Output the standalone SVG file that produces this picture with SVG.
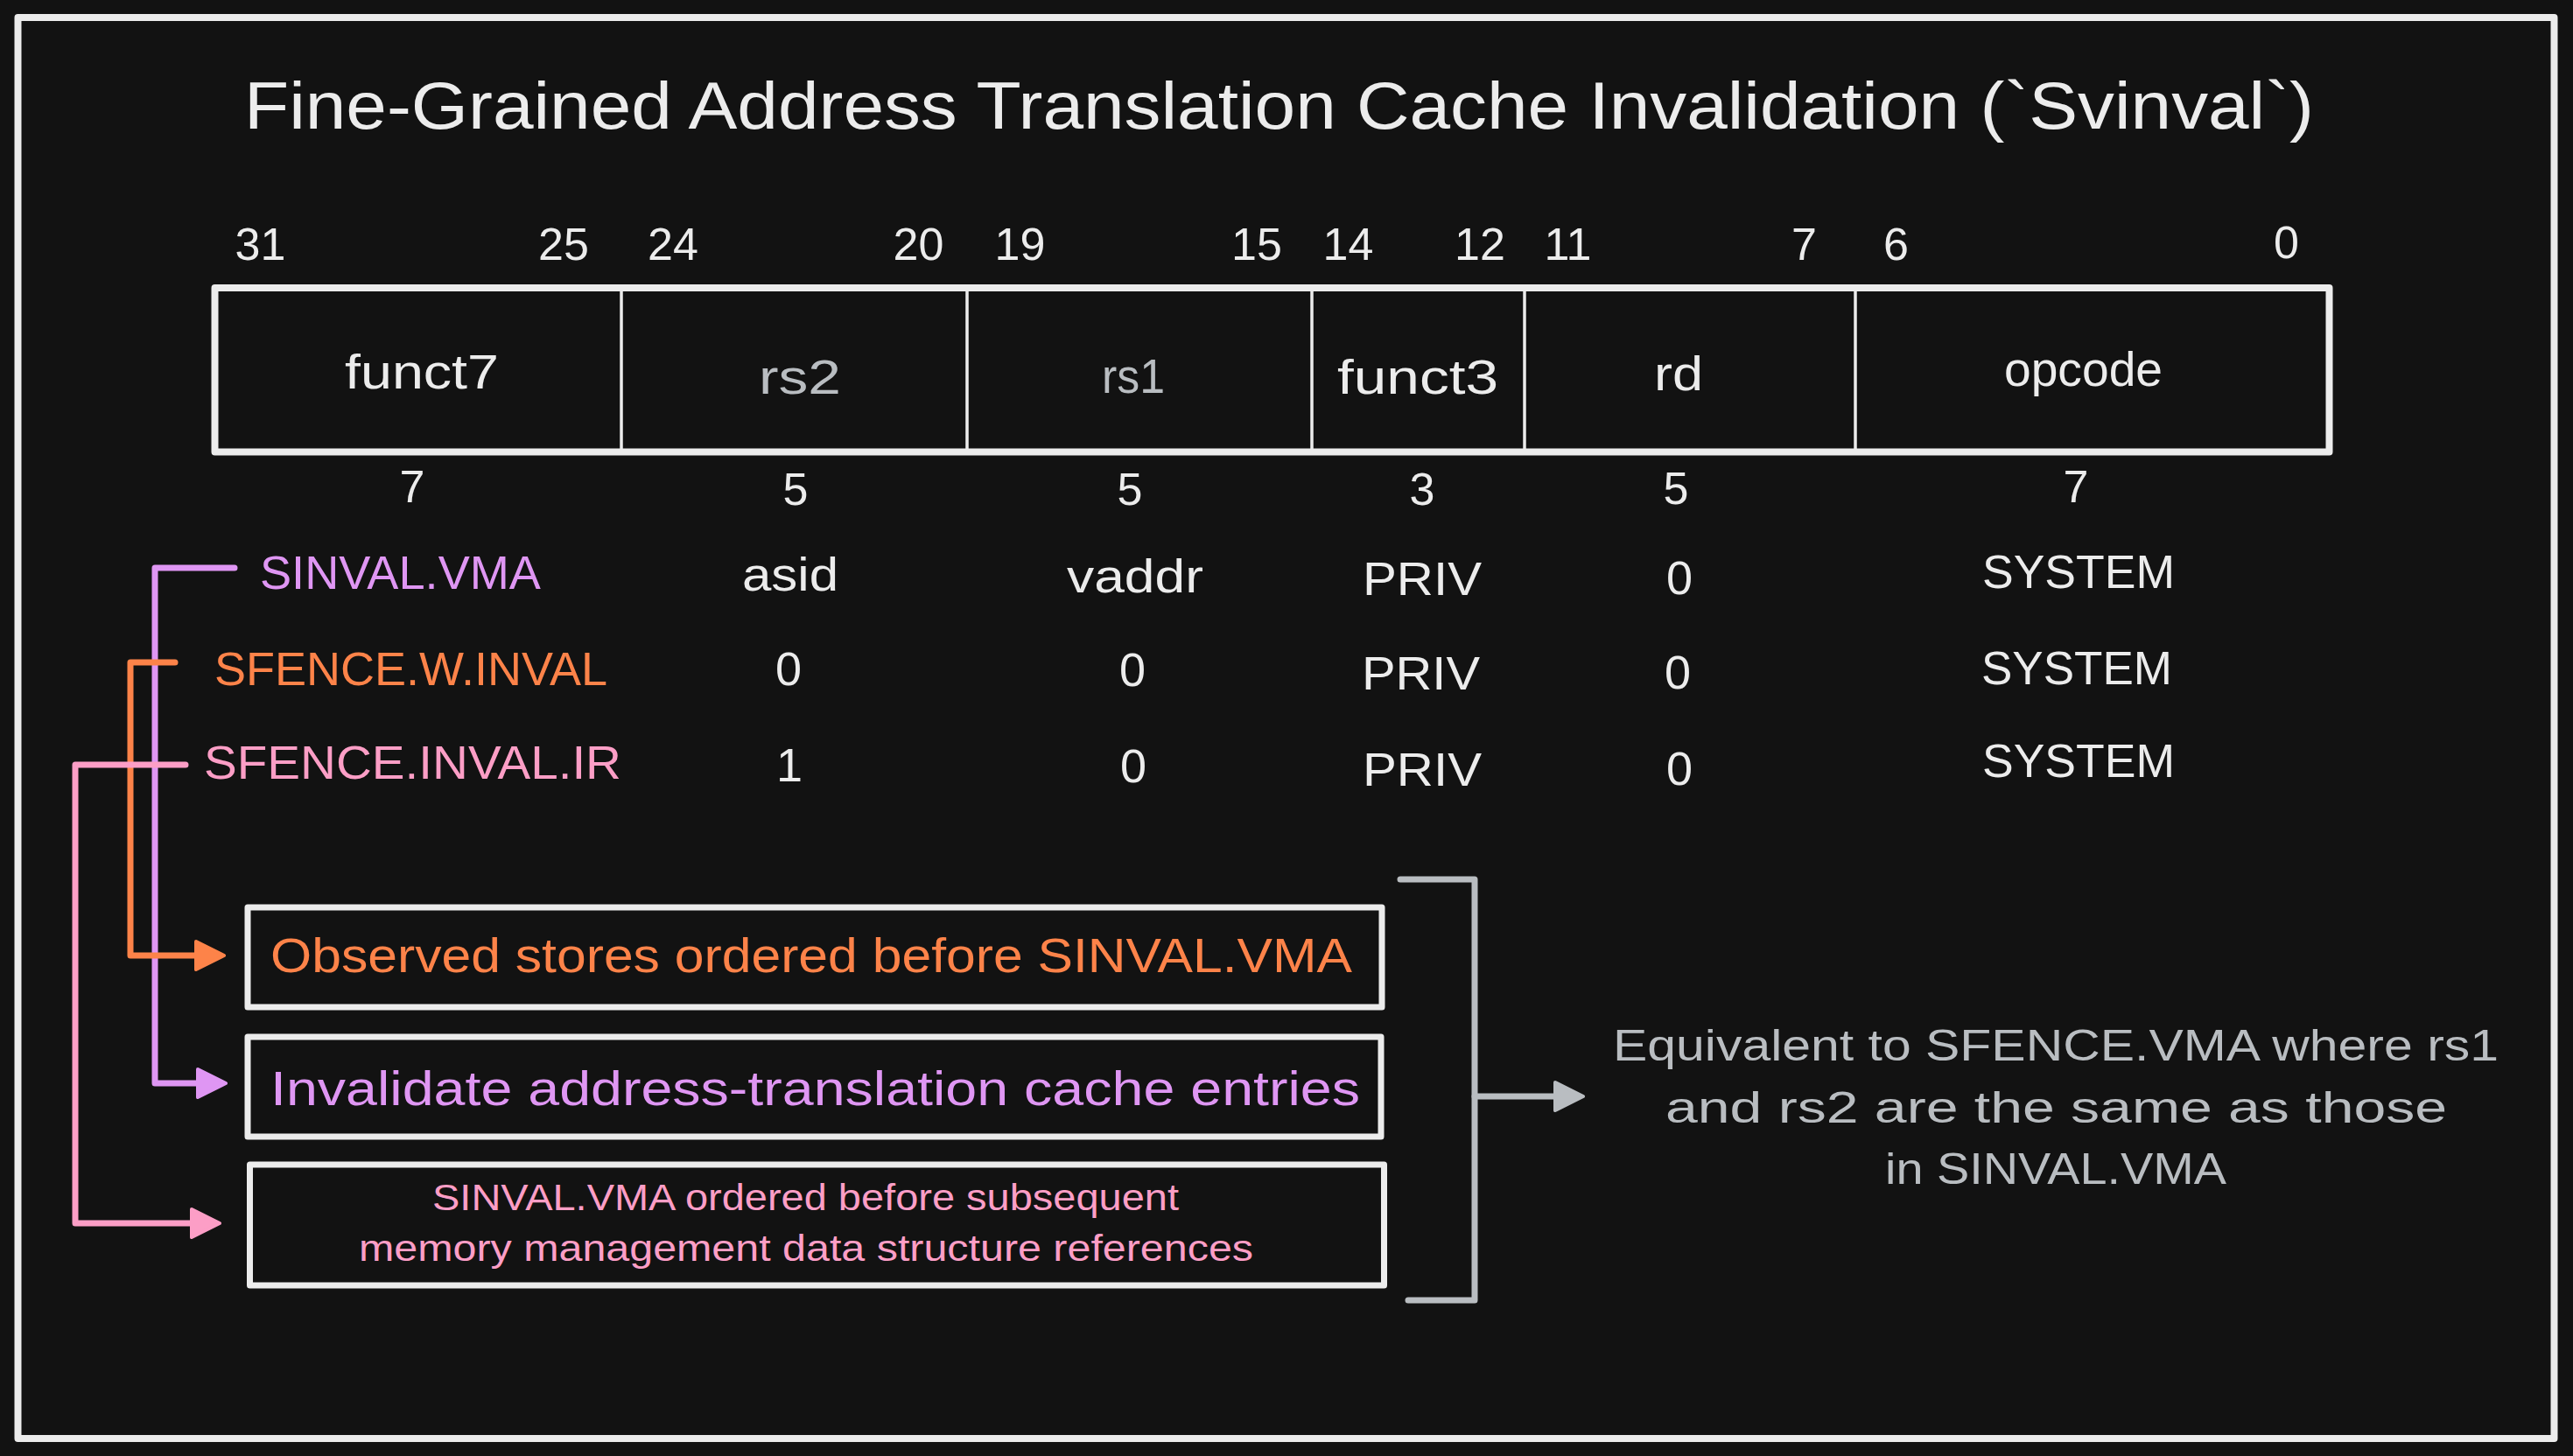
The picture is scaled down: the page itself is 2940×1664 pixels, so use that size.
<svg xmlns="http://www.w3.org/2000/svg" width="2940" height="1664" viewBox="0 0 2940 1664">
  <style>
    text { font-family: "Liberation Sans", "DejaVu Sans", sans-serif; fill: #ececec; }
    .title { font-size: 76px; }
    .bit { font-size: 52px; text-anchor: middle; }
    .num { font-size: 54px; text-anchor: middle; }
    .field { font-size: 56px; }
    .row { font-size: 54px; }
    .box-lg { font-size: 56px; }
    .box-sm { font-size: 42px; }
    .note { font-size: 50px; fill: #b9bdc1; }
    .gray { fill: #b9bdc1; }
    .violet { fill: #df96f3; }
    .orange { fill: #fd8349; }
    .pink { fill: #fc9ec6; }
    .frame { fill: none; stroke: #ececec; stroke-width: 8; stroke-linejoin: round; }
    .cell { fill: none; stroke: #ececec; stroke-width: 7; stroke-linejoin: round; }
    .divider { stroke: #ececec; stroke-width: 3.5; }
    .wire { fill: none; stroke-width: 7; stroke-linecap: round; stroke-linejoin: round; }
  </style>
  <defs>
    <marker id="head-violet" viewBox="0 0 44 44" markerWidth="44" markerHeight="44" refX="10" refY="22" markerUnits="userSpaceOnUse" orient="auto" overflow="visible">
      <path d="M6,6 L38,22 L6,38 Z" fill="#df96f3" stroke="#df96f3" stroke-width="4" stroke-linejoin="round"/>
    </marker>
    <marker id="head-orange" viewBox="0 0 44 44" markerWidth="44" markerHeight="44" refX="10" refY="22" markerUnits="userSpaceOnUse" orient="auto" overflow="visible">
      <path d="M6,6 L38,22 L6,38 Z" fill="#fd8349" stroke="#fd8349" stroke-width="4" stroke-linejoin="round"/>
    </marker>
    <marker id="head-pink" viewBox="0 0 44 44" markerWidth="44" markerHeight="44" refX="10" refY="22" markerUnits="userSpaceOnUse" orient="auto" overflow="visible">
      <path d="M6,6 L38,22 L6,38 Z" fill="#fc9ec6" stroke="#fc9ec6" stroke-width="4" stroke-linejoin="round"/>
    </marker>
    <marker id="head-gray" viewBox="0 0 44 44" markerWidth="44" markerHeight="44" refX="10" refY="22" markerUnits="userSpaceOnUse" orient="auto" overflow="visible">
      <path d="M6,6 L38,22 L6,38 Z" fill="#b9bdc1" stroke="#b9bdc1" stroke-width="4" stroke-linejoin="round"/>
    </marker>
  </defs>

  <!-- canvas -->
  <rect x="0" y="0" width="2940" height="1664" fill="#121212"/>
  <rect id="outer-frame" class="frame" x="20.5" y="20" width="2898" height="1624"/>

  <g id="title">
    <text class="title" x="279" y="147" textLength="2365" lengthAdjust="spacingAndGlyphs">Fine-Grained Address Translation Cache Invalidation (`Svinval`)</text>
  </g>

  <!-- bit positions above the encoding -->
  <g id="bit-positions">
    <text class="bit" x="297.5" y="297">31</text>
    <text class="bit" x="644" y="297">25</text>
    <text class="bit" x="769" y="297">24</text>
    <text class="bit" x="1049.5" y="297">20</text>
    <text class="bit" x="1165.5" y="297">19</text>
    <text class="bit" x="1436" y="297">15</text>
    <text class="bit" x="1540.5" y="297">14</text>
    <text class="bit" x="1691" y="297">12</text>
    <text class="bit" x="1791.5" y="297">11</text>
    <text class="bit" x="2061.5" y="297">7</text>
    <text class="bit" x="2166.5" y="297">6</text>
    <text class="bit" x="2612.5" y="295">0</text>
  </g>

  <!-- instruction encoding fields -->
  <g id="encoding">
    <rect class="frame" x="245.5" y="329" width="2416" height="187.5"/>
    <line class="divider" x1="710" y1="329" x2="710" y2="516"/>
    <line class="divider" x1="1105" y1="329" x2="1105" y2="516"/>
    <line class="divider" x1="1499" y1="329" x2="1499" y2="516"/>
    <line class="divider" x1="1742" y1="329" x2="1742" y2="516"/>
    <line class="divider" x1="2120" y1="329" x2="2120" y2="516"/>
    <g id="field-funct7"><text class="field" x="394" y="444" textLength="176" lengthAdjust="spacingAndGlyphs">funct7</text></g>
    <g id="field-rs2"><text class="field gray" x="867" y="450" textLength="94" lengthAdjust="spacingAndGlyphs">rs2</text></g>
    <g id="field-rs1"><text class="field gray" x="1259" y="449" textLength="72" lengthAdjust="spacingAndGlyphs">rs1</text></g>
    <g id="field-funct3"><text class="field" x="1528" y="450" textLength="184" lengthAdjust="spacingAndGlyphs">funct3</text></g>
    <g id="field-rd"><text class="field" x="1890" y="446" textLength="56" lengthAdjust="spacingAndGlyphs">rd</text></g>
    <g id="field-opcode"><text class="field" x="2290" y="441" textLength="181" lengthAdjust="spacingAndGlyphs">opcode</text></g>
  </g>

  <!-- field widths -->
  <g id="field-widths">
    <text class="bit" x="471" y="574">7</text>
    <text class="bit" x="909" y="577">5</text>
    <text class="bit" x="1291" y="577">5</text>
    <text class="bit" x="1625" y="577">3</text>
    <text class="bit" x="1915" y="576">5</text>
    <text class="bit" x="2372" y="574">7</text>
  </g>

  <!-- instruction rows -->
  <g id="row-sinval-vma">
    <text class="row violet" x="297" y="673" textLength="321" lengthAdjust="spacingAndGlyphs">SINVAL.VMA</text>
    <text class="row" x="848" y="675" textLength="110" lengthAdjust="spacingAndGlyphs">asid</text>
    <text class="row" x="1219" y="677" textLength="156" lengthAdjust="spacingAndGlyphs">vaddr</text>
    <text class="row" x="1557" y="680" textLength="136" lengthAdjust="spacingAndGlyphs">PRIV</text>
    <text class="num" x="1919" y="679">0</text>
    <text class="row" x="2265" y="672" textLength="220" lengthAdjust="spacingAndGlyphs">SYSTEM</text>
  </g>
  <g id="row-sfence-w-inval">
    <text class="row orange" x="245" y="783" textLength="449" lengthAdjust="spacingAndGlyphs">SFENCE.W.INVAL</text>
    <text class="num" x="901" y="783">0</text>
    <text class="num" x="1294" y="784">0</text>
    <text class="row" x="1556" y="788" textLength="135" lengthAdjust="spacingAndGlyphs">PRIV</text>
    <text class="num" x="1917" y="787">0</text>
    <text class="row" x="2264" y="782" textLength="218" lengthAdjust="spacingAndGlyphs">SYSTEM</text>
  </g>
  <g id="row-sfence-inval-ir">
    <text class="row pink" x="233" y="890" textLength="477" lengthAdjust="spacingAndGlyphs">SFENCE.INVAL.IR</text>
    <text class="num" x="902" y="893">1</text>
    <text class="num" x="1295" y="894">0</text>
    <text class="row" x="1557" y="898" textLength="136" lengthAdjust="spacingAndGlyphs">PRIV</text>
    <text class="num" x="1919" y="897">0</text>
    <text class="row" x="2265" y="888" textLength="220" lengthAdjust="spacingAndGlyphs">SYSTEM</text>
  </g>

  <!-- effect boxes -->
  <g id="box-store-ordering">
    <rect class="cell" x="283" y="1037" width="1296" height="114"/>
    <text class="box-lg orange" x="309" y="1111" textLength="1236" lengthAdjust="spacingAndGlyphs">Observed stores ordered before SINVAL.VMA</text>
  </g>
  <g id="box-invalidate">
    <rect class="cell" x="283" y="1185" width="1295" height="114"/>
    <text class="box-lg violet" x="309" y="1263" textLength="1245" lengthAdjust="spacingAndGlyphs">Invalidate address-translation cache entries</text>
  </g>
  <g id="box-ref-ordering">
    <rect class="cell" x="285.5" y="1331" width="1296" height="138"/>
    <text class="box-sm pink" x="494" y="1383" textLength="853" lengthAdjust="spacingAndGlyphs">SINVAL.VMA ordered before subsequent</text>
    <text class="box-sm pink" x="410" y="1441" textLength="1022" lengthAdjust="spacingAndGlyphs">memory management data structure references</text>
  </g>

  <!-- bracket grouping the three effects -->
  <g id="bracket">
    <path class="wire" stroke="#b9bdc1" d="M1600,1005 H1685 V1486 H1609"/>
  </g>

  <g id="equivalence-note">
    <text class="note" x="1843" y="1212" textLength="1012" lengthAdjust="spacingAndGlyphs">Equivalent to SFENCE.VMA where rs1</text>
    <text class="note" x="1903" y="1283" textLength="893" lengthAdjust="spacingAndGlyphs">and rs2 are the same as those</text>
    <text class="note" x="2154" y="1353" textLength="390" lengthAdjust="spacingAndGlyphs">in SINVAL.VMA</text>
  </g>

  <!-- connectors -->
  <g id="connectors">
    <path class="wire" stroke="#df96f3" d="M268,649 H177 V1238 H230" marker-end="url(#head-violet)"/>
    <path class="wire" stroke="#fd8349" d="M200,757 H149 V1092 H228" marker-end="url(#head-orange)"/>
    <path class="wire" stroke="#fc9ec6" d="M212,874 H86 V1398 H223" marker-end="url(#head-pink)"/>
    <path class="wire" stroke="#b9bdc1" d="M1685,1253 H1781" marker-end="url(#head-gray)"/>
  </g>
</svg>
